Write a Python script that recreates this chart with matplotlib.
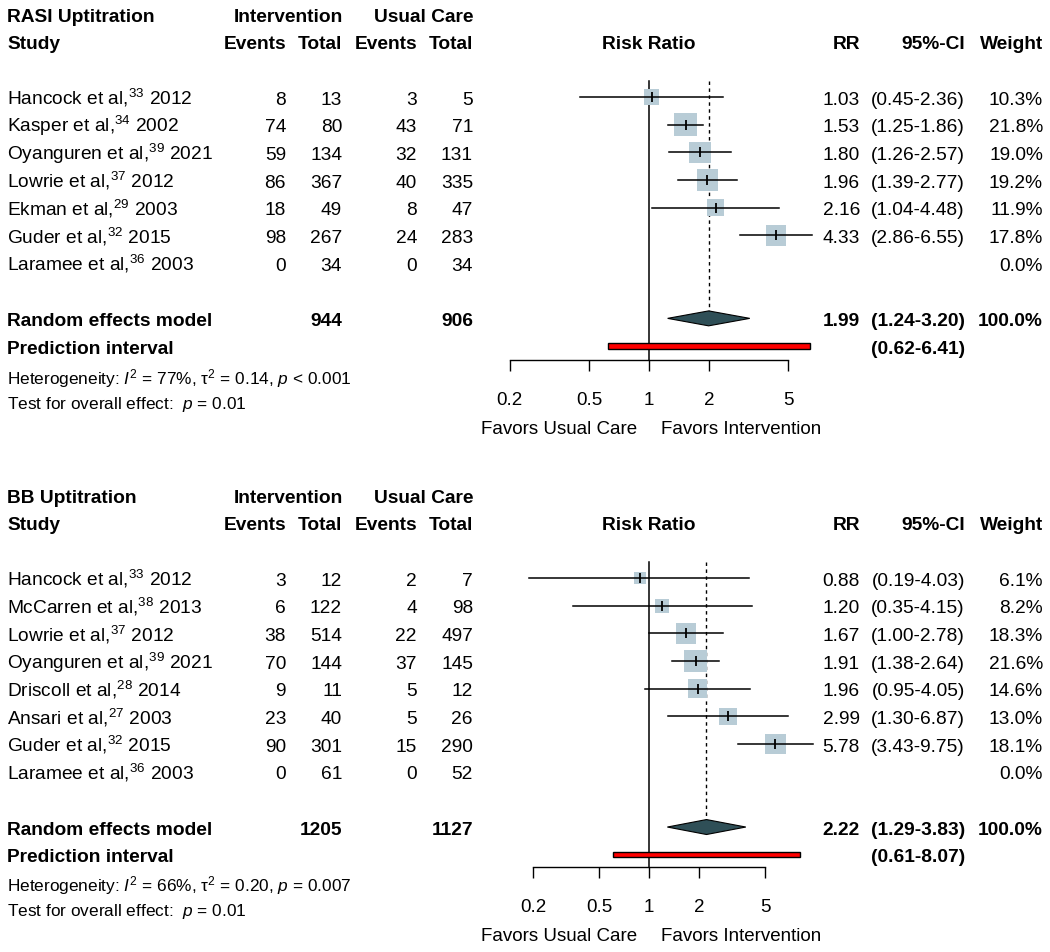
import matplotlib
matplotlib.use('Agg')
import matplotlib.pyplot as plt
import matplotlib.transforms as mtransforms
from matplotlib.patches import Polygon, Rectangle
import numpy as np

plt.rcParams['font.family'] = 'Liberation Sans'
plt.rcParams['mathtext.fontset'] = 'custom'
plt.rcParams['mathtext.rm'] = 'Liberation Sans'
plt.rcParams['mathtext.it'] = 'Liberation Sans:italic'
plt.rcParams['mathtext.bf'] = 'Liberation Sans:bold'

W, H = 1050, 953
FS = 13.75
FS_SMALL = 12.4
ROW = 27.67

SQUARE_COLOR = '#b8ccd6'
DIAMOND_COLOR = '#2f4f57'

# ---- RASI uptitration ----
rasi_studies = ["Hancock et al,$^{33}$ 2012", "Kasper et al,$^{34}$ 2002",
                "Oyanguren et al,$^{39}$ 2021", "Lowrie et al,$^{37}$ 2012",
                "Ekman et al,$^{29}$ 2003", "Guder et al,$^{32}$ 2015",
                "Laramee et al,$^{36}$ 2003"]
rasi_ev_int = [8, 74, 59, 86, 18, 98, 0]
rasi_tot_int = [13, 80, 134, 367, 49, 267, 34]
rasi_ev_uc = [3, 43, 32, 40, 8, 24, 0]
rasi_tot_uc = [5, 71, 131, 335, 47, 283, 34]
rasi_rr = [1.03, 1.53, 1.80, 1.96, 2.16, 4.33, None]
rasi_lo = [0.45, 1.25, 1.26, 1.39, 1.04, 2.86, None]
rasi_hi = [2.36, 1.86, 2.57, 2.77, 4.48, 6.55, None]
rasi_weight = [10.3, 21.8, 19.0, 19.2, 11.9, 17.8, 0.0]
rasi_pooled = [1.99, 1.24, 3.20]
rasi_pred = [0.62, 6.41]
rasi_totals = [944, 906]
rasi_het = "Heterogeneity: $I^2$ = 77%, τ$^2$ = 0.14, $p$ < 0.001"
rasi_p = "0.01"

# ---- BB uptitration ----
bb_studies = ["Hancock et al,$^{33}$ 2012", "McCarren et al,$^{38}$ 2013",
              "Lowrie et al,$^{37}$ 2012", "Oyanguren et al,$^{39}$ 2021",
              "Driscoll et al,$^{28}$ 2014", "Ansari et al,$^{27}$ 2003",
              "Guder et al,$^{32}$ 2015", "Laramee et al,$^{36}$ 2003"]
bb_ev_int = [3, 6, 38, 70, 9, 23, 90, 0]
bb_tot_int = [12, 122, 514, 144, 11, 40, 301, 61]
bb_ev_uc = [2, 4, 22, 37, 5, 5, 15, 0]
bb_tot_uc = [7, 98, 497, 145, 12, 26, 290, 52]
bb_rr = [0.88, 1.20, 1.67, 1.91, 1.96, 2.99, 5.78, None]
bb_lo = [0.19, 0.35, 1.00, 1.38, 0.95, 1.30, 3.43, None]
bb_hi = [4.03, 4.15, 2.78, 2.64, 4.05, 6.87, 9.75, None]
bb_weight = [6.1, 8.2, 18.3, 21.6, 14.6, 13.0, 18.1, 0.0]
bb_pooled = [2.22, 1.29, 3.83]
bb_pred = [0.61, 8.07]
bb_totals = [1205, 1127]
bb_het = "Heterogeneity: $I^2$ = 66%, τ$^2$ = 0.20, $p$ = 0.007"
bb_p = "0.01"

ticks = [0.2, 0.5, 1, 2, 5]
tick_labels = ['0.2', '0.5', '1', '2', '5']

fig = plt.figure(figsize=(10.5, 9.53), dpi=100)


def draw_panel(top_px, axis_px, px_per_decade, title, studies, ev_i, tot_i, ev_c, tot_c,
               rr, lo, hi, wt, pooled, pred, totals, het, p_overall):
    axis_row = (axis_px - top_px) / ROW
    ax_top_px = top_px - 0.5 * ROW
    left_px, right_px = 480, 840
    ax = fig.add_axes([left_px / W, 1 - axis_px / H, (right_px - left_px) / W,
                       (axis_px - ax_top_px) / H])
    ax.set_xscale('log')
    ax.set_xlim(10 ** ((left_px - 649) / px_per_decade), 10 ** ((right_px - 649) / px_per_decade))
    ax.set_ylim(axis_row, -0.5)
    ax.patch.set_visible(False)
    for s in ['top', 'right', 'left']:
        ax.spines[s].set_visible(False)
    ax.spines['bottom'].set_bounds(0.2, 5)
    ax.spines['bottom'].set_linewidth(1.0)
    ax.set_xticks(ticks)
    ax.set_xticklabels(tick_labels)
    ax.xaxis.set_minor_locator(matplotlib.ticker.NullLocator())
    ax.tick_params(axis='x', direction='out', length=8, width=1.0, pad=14, labelsize=13.5)
    ax.set_yticks([])

    trans = mtransforms.blended_transform_factory(fig.transFigure, ax.transData)

    def txt(px, row, s, ha='right', bold=False, size=FS):
        off = 0.245 if size == FS else 0.22
        ax.text(px / W, row + off, s, transform=trans, ha=ha, va='baseline',
                fontsize=size, fontweight='bold' if bold else 'normal', clip_on=False)

    # headers
    txt(7, 0, title, ha='left', bold=True)
    txt(343, 0, 'Intervention', bold=True)
    txt(473, 0, 'Usual Care', bold=True)
    txt(7, 1, 'Study', ha='left', bold=True)
    txt(286, 1, 'Events', bold=True)
    txt(342, 1, 'Total', bold=True)
    txt(417, 1, 'Events', bold=True)
    txt(473, 1, 'Total', bold=True)
    txt(649, 1, 'Risk Ratio', ha='center', bold=True)
    txt(860, 1, 'RR', bold=True)
    txt(965, 1, '95%-CI', bold=True)
    txt(1043, 1, 'Weight', bold=True)

    n = len(studies)
    rows = np.arange(n) + 3
    wmax = max(wt)
    for i, r in enumerate(rows):
        txt(7, r, studies[i], ha='left')
        txt(286, r, str(ev_i[i]))
        txt(342, r, str(tot_i[i]))
        txt(417, r, str(ev_c[i]))
        txt(473, r, str(tot_c[i]))
        txt(1043, r, '%.1f%%' % wt[i])
        if rr[i] is None:
            continue
        txt(860, r, '%.2f' % rr[i])
        txt(965, r, '(%.2f-%.2f)' % (lo[i], hi[i]))
        side_pt = 22.7 * np.sqrt(wt[i] / wmax) * 0.72
        ax.scatter([rr[i]], [r], s=side_pt ** 2, marker='s', color=SQUARE_COLOR,
                   edgecolors='none', zorder=2, clip_on=False)
        ax.plot([lo[i], hi[i]], [r, r], color='black', lw=1.1, zorder=3, clip_on=False)
        ax.plot([rr[i]], [r], marker='|', color='black', ms=6.5, mew=1.3, zorder=4)

    # pooled
    pr = n + 4
    est, plo, phi = pooled
    txt(7, pr, 'Random effects model', ha='left', bold=True)
    txt(342, pr, str(totals[0]), bold=True)
    txt(473, pr, str(totals[1]), bold=True)
    txt(860, pr, '%.2f' % est, bold=True)
    txt(965, pr, '(%.2f-%.2f)' % (plo, phi), bold=True)
    txt(1043, pr, '100.0%', bold=True)
    dh = 0.27
    ax.add_patch(Polygon([[plo, pr], [est, pr - dh], [phi, pr], [est, pr + dh]], closed=True,
                         facecolor=DIAMOND_COLOR, edgecolor='black', lw=0.8, zorder=3))

    # prediction interval
    qr = pr + 1
    txt(7, qr, 'Prediction interval', ha='left', bold=True)
    txt(965, qr, '(%.2f-%.2f)' % (pred[0], pred[1]), bold=True)
    ax.add_patch(Rectangle((pred[0], qr - 0.1), pred[1] - pred[0], 0.2, facecolor='#ff0000',
                           edgecolor='black', lw=1.0, zorder=3, clip_on=False))

    # reference lines
    ax.plot([1, 1], [2.42, axis_row], color='black', lw=1.1, zorder=1, clip_on=False)
    ax.plot([est, est], [2.42, pr - dh], color='black', lw=1.0, ls=(0, (2.5, 2.5)), zorder=1)

    # footer
    txt(7, axis_row + 0.61, het, ha='left', size=FS_SMALL)
    txt(7, axis_row + 1.5, 'Test for overall effect:  $p$ = ' + p_overall, ha='left', size=FS_SMALL)
    txt(637, axis_row + 2.42, 'Favors Usual Care', ha='right', size=13.5)
    txt(661, axis_row + 2.42, 'Favors Intervention', ha='left', size=13.5)
    return ax


draw_panel(15, 361, 199.5, 'RASI Uptitration', rasi_studies, rasi_ev_int, rasi_tot_int,
           rasi_ev_uc, rasi_tot_uc, rasi_rr, rasi_lo, rasi_hi, rasi_weight, rasi_pooled,
           rasi_pred, rasi_totals, rasi_het, rasi_p)
draw_panel(496, 868, 166, 'BB Uptitration', bb_studies, bb_ev_int, bb_tot_int,
           bb_ev_uc, bb_tot_uc, bb_rr, bb_lo, bb_hi, bb_weight, bb_pooled,
           bb_pred, bb_totals, bb_het, bb_p)

fig.savefig('out.png', dpi=100, facecolor='white')
